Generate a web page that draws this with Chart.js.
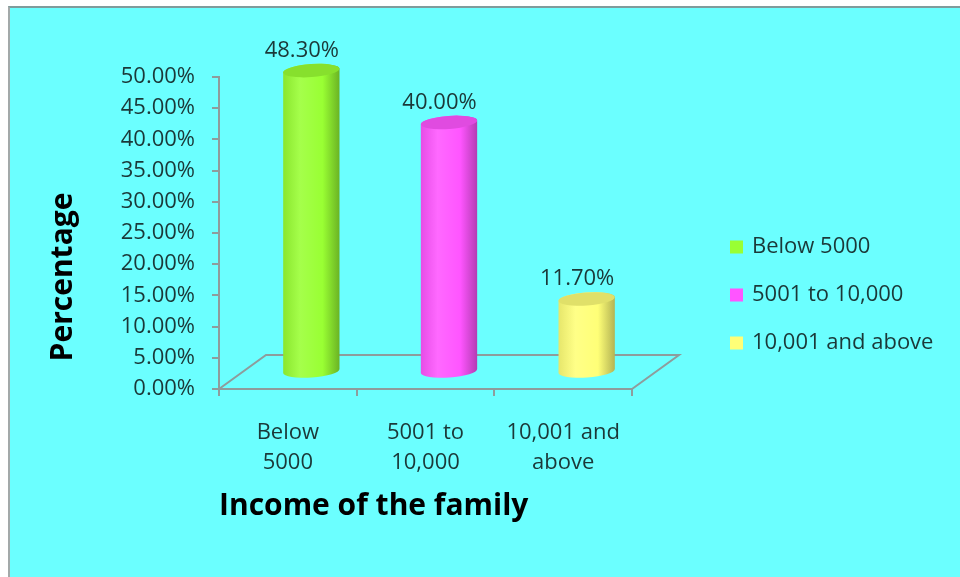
<!DOCTYPE html>
<html>
<head>
<meta charset="utf-8">
<title>Income of the family</title>
<script src="https://cdn.jsdelivr.net/npm/chart.js@4.4.1/dist/chart.umd.min.js"></script>
<style>
  html, body { margin: 0; background: #fff; }
  #frame {
    position: absolute;
    left: 8px;
    top: 6px;
    width: 950px;
    height: 569px;
    border-left: 2px solid #a3a9a9;
    border-top: 2px solid #7f9c9c;
    background: #6bffff;
  }
  canvas { display: block; }
</style>
</head>
<body>
<div id="frame"><canvas id="income-chart" width="950" height="569"></canvas></div>
<script>
const categories = ["Below 5000", "5001 to 10,000", "10,001 and above"];
const tickLabels = [["Below", "5000"], ["5001 to", "10,000"], ["10,001 and", "above"]];
const shares = [48.3, 40.0, 11.7];
const yMin = 0;
const yMax = 50;
const yStep = 5;

const barColors = ["#99ff33", "#ff55ff", "#ffff77"];
const axisGray = "#8e9c9c";
const textColor = "#1b3838";
const font = "'Open Sans', sans-serif";
const textSize = 22;

// offset of the back edge of the floor
const depth = { x: 47, y: -34 };

function mix(hex, target, amount) {
  const a = parseInt(hex.slice(1), 16);
  const b = parseInt(target.slice(1), 16);
  const ch = (v, s) => (v >> s) & 255;
  const c = [16, 8, 0].map((s) => Math.round(ch(a, s) + (ch(b, s) - ch(a, s)) * amount));
  return "rgb(" + c.join(",") + ")";
}

function drawCylinder(ctx, cx, top, base, rx, ry, color) {
  const tilt = -0.07;
  const body = ctx.createLinearGradient(cx - rx, 0, cx + rx, 0);
  body.addColorStop(0, mix(color, "#000000", 0.1));
  body.addColorStop(0.3, mix(color, "#ffffff", 0.12));
  body.addColorStop(0.7, color);
  body.addColorStop(1, mix(color, "#000000", 0.3));

  ctx.beginPath();
  ctx.ellipse(cx, base, rx, ry, tilt, 0, Math.PI);
  ctx.ellipse(cx, top, rx, ry, tilt, Math.PI, 2 * Math.PI);
  ctx.closePath();
  ctx.fillStyle = body;
  ctx.fill();

  ctx.beginPath();
  ctx.ellipse(cx, top, rx, ry, tilt, 0, 2 * Math.PI);
  ctx.fillStyle = mix(color, "#000000", 0.12);
  ctx.fill();
}

const cylinders = {
  id: "cylinders",
  beforeDatasetsDraw(chart) {
    const { ctx, chartArea: a } = chart;
    ctx.save();

    // floor
    ctx.strokeStyle = axisGray;
    ctx.lineWidth = 2;
    ctx.beginPath();
    ctx.moveTo(a.left, a.bottom);
    ctx.lineTo(a.left + depth.x, a.bottom + depth.y);
    ctx.lineTo(a.right + depth.x, a.bottom + depth.y);
    ctx.lineTo(a.right, a.bottom);
    ctx.stroke();

    const meta = chart.getDatasetMeta(0);
    meta.data.forEach((bar, i) => {
      const cx = bar.x + depth.x / 2;
      const top = bar.y + depth.y / 2;
      const base = bar.base + depth.y / 2;
      drawCylinder(ctx, cx, top, base, bar.width / 2, 6.5, barColors[i]);

      ctx.fillStyle = textColor;
      ctx.font = textSize + "px " + font;
      ctx.textAlign = "center";
      ctx.textBaseline = "middle";
      ctx.fillText(shares[i].toFixed(2) + "%", bar.x + 14, top - 20);
    });

    ctx.restore();
    return false; // flat bars are replaced by the cylinders
  },
  afterDraw(chart) {
    const { ctx, chartArea: a } = chart;
    ctx.save();

    // y axis title
    ctx.translate(a.left - 147, (a.top + a.bottom) / 2 + 44);
    ctx.rotate(-Math.PI / 2);
    ctx.font = "bold 30px " + font;
    ctx.fillStyle = "#000";
    ctx.textAlign = "center";
    ctx.textBaseline = "alphabetic";
    ctx.fillText("Percentage", 0, 0);
    ctx.setTransform(1, 0, 0, 1, 0, 0);

    // legend
    const lx = a.right + 98;
    ctx.font = textSize + "px " + font;
    ctx.textAlign = "left";
    ctx.textBaseline = "middle";
    categories.forEach((c, i) => {
      const cy = a.top + 170 + i * 48;
      ctx.fillStyle = barColors[i];
      ctx.fillRect(lx, cy - 6.5, 13, 13);
      ctx.fillStyle = textColor;
      ctx.fillText(c, lx + 22, cy);
    });

    ctx.restore();
  },
};

const ctx = document.getElementById("income-chart");

const incomeChart = new Chart(ctx, {
  type: "bar",
  data: {
    labels: categories,
    datasets: [
      {
        label: "Percentage",
        data: shares,
        backgroundColor: barColors,
        barPercentage: 0.41,
        categoryPercentage: 1,
      },
    ],
  },
  plugins: [cylinders],
  options: {
    responsive: false,
    animation: false,
    layout: {
      padding: { top: 69, right: 328, bottom: 38, left: 0 },
    },
    plugins: {
      legend: { display: false },
      tooltip: { enabled: false },
    },
    scales: {
      y: {
        min: yMin,
        max: yMax,
        afterFit: (scale) => {
          scale.width = 209;
        },
        border: { color: axisGray, width: 2 },
        grid: {
          drawOnChartArea: false,
          tickLength: 7,
          color: axisGray,
          lineWidth: 2,
        },
        ticks: {
          stepSize: yStep,
          padding: 17,
          color: textColor,
          font: { family: font, size: textSize },
          callback: (v) => v.toFixed(2) + "%",
        },
      },
      x: {
        afterFit: (scale) => {
          scale.height = 150;
        },
        border: { color: axisGray, width: 2 },
        grid: {
          drawOnChartArea: false,
          tickLength: 7,
          color: axisGray,
          lineWidth: 2,
        },
        ticks: {
          autoSkip: false,
          maxRotation: 0,
          padding: 22,
          color: textColor,
          font: { family: font, size: textSize, lineHeight: "30px" },
          callback: (v, i) => tickLabels[i],
        },
        title: {
          display: true,
          text: "Income of the family",
          align: "start",
          color: "#000",
          padding: { top: 0, bottom: 15 },
          font: { family: font, size: 30, weight: "bold" },
        },
      },
    },
  },
});
</script>
</body>
</html>
